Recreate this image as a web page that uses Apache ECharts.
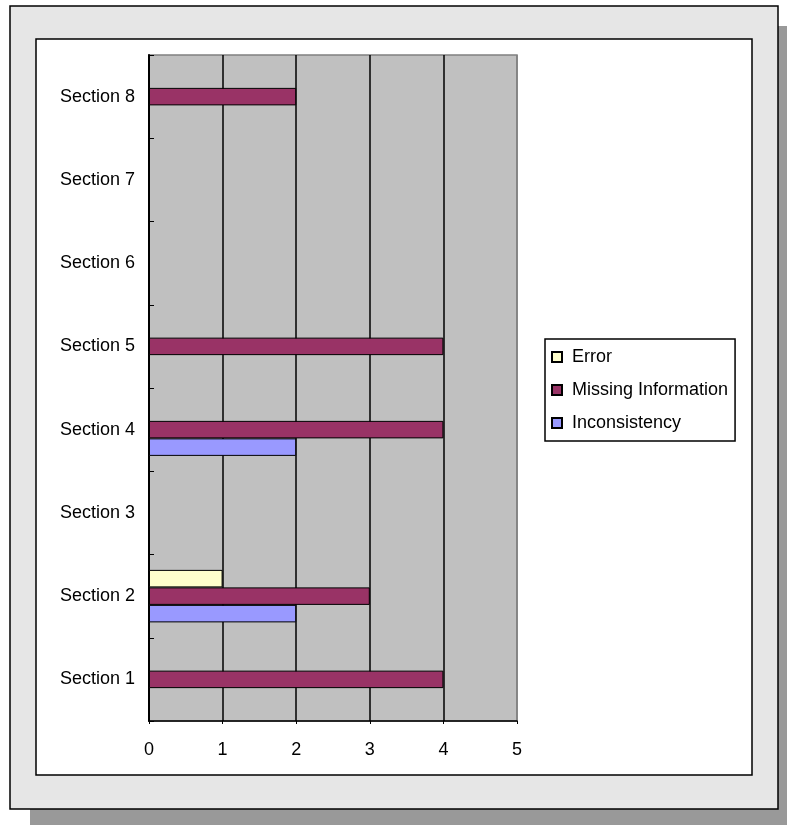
<!DOCTYPE html>
<html>
<head>
<meta charset="utf-8">
<script src="https://cdn.jsdelivr.net/npm/echarts@6/dist/echarts.min.js"></script>
<style>
html,body{margin:0;padding:0;background:#fff;}
#chart{width:787px;height:825px;}
</style>
</head>
<body>
<div id="chart"></div>
<script>
var categories = ['Section 1','Section 2','Section 3','Section 4','Section 5','Section 6','Section 7','Section 8'];
var errorValues = [null, 1, null, null, null, null, null, null];
var missingValues = [4, 3, null, 4, 4, null, null, 2];
var inconsistencyValues = [null, 2, null, 2, null, null, null, null];
var xTicks = [0, 1, 2, 3, 4, 5];

var font = 'Liberation Sans, Arial, sans-serif';
var chart = echarts.init(document.getElementById('chart'));
chart.setOption({
  animation: false,
  backgroundColor: '#ffffff',
  textStyle: { fontFamily: font, color: '#000' },
  graphic: [
    { type: 'rect', z: -30, shape: { x: 30, y: 26, width: 760, height: 800 }, style: { fill: '#999999' } },
    { type: 'rect', z: -20, shape: { x: 10, y: 6, width: 768, height: 803 }, style: { fill: '#e6e6e6', stroke: '#000', lineWidth: 1.5 } },
    { type: 'rect', z: -10, shape: { x: 36, y: 39, width: 716, height: 736 }, style: { fill: '#ffffff', stroke: '#000', lineWidth: 1.5 } }
  ],
  grid: {
    left: 149, top: 55, width: 368, height: 666,
    show: true, backgroundColor: '#c0c0c0', borderColor: '#808080', borderWidth: 1.5
  },
  legend: {
    orient: 'vertical', left: 545, top: 339,
    data: ['Error', 'Missing Information', 'Inconsistency'],
    icon: 'rect', itemWidth: 10, itemHeight: 10, itemGap: 13,
    padding: [8, 7, 8, 6],
    borderColor: '#000', borderWidth: 1.5, backgroundColor: '#fff',
    textStyle: { fontFamily: font, fontSize: 18, color: '#000', lineHeight: 20, padding: [0, 0, 0, 5] }
  },
  xAxis: {
    type: 'value', min: 0, max: 5, interval: 1,
    axisLine: { show: true, lineStyle: { color: '#000', width: 1.5 } },
    axisTick: { show: true, length: 3, lineStyle: { color: '#000' } },
    splitLine: { show: true, lineStyle: { color: ['#000', '#000', '#000', '#000', '#000', '#808080'], width: 1.5 } },
    axisLabel: { fontFamily: font, fontSize: 18, color: '#000', margin: 20,
      formatter: function (v) { return xTicks.indexOf(v) >= 0 ? String(v) : ''; } }
  },
  yAxis: {
    type: 'category', data: categories,
    axisLine: { show: true, lineStyle: { color: '#000', width: 2 } },
    axisTick: { show: true, inside: true, length: 5, lineStyle: { color: '#000' } },
    axisLabel: { fontFamily: font, fontSize: 18, color: '#000', margin: 14 }
  },
  series: [
    { name: 'Error', type: 'bar', data: errorValues, barWidth: 17.5, barGap: '0%',
      itemStyle: { color: '#ffffcc', borderColor: '#000', borderWidth: 1 } },
    { name: 'Missing Information', type: 'bar', data: missingValues, barWidth: 17.5, barGap: '0%',
      itemStyle: { color: '#993366', borderColor: '#000', borderWidth: 1 } },
    { name: 'Inconsistency', type: 'bar', data: inconsistencyValues, barWidth: 17.5, barGap: '0%',
      itemStyle: { color: '#9999ff', borderColor: '#000', borderWidth: 1 } }
  ]
});
</script>
</body>
</html>
